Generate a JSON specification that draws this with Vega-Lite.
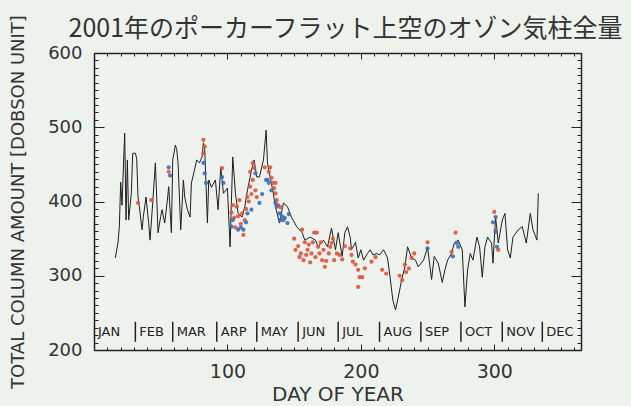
{
  "$schema": "https://vega.github.io/schema/vega-lite/v6.json",
  "width": 487,
  "height": 297,
  "autosize": {"type": "none"},
  "padding": {"left": 94, "top": 53, "right": 50, "bottom": 56},
  "background": "#edf3ec",
  "config": {"view": {"stroke": null}},
  "title": {
    "text": "2001年のポーカーフラット上空のオゾン気柱全量",
    "font": "Noto Sans CJK JP",
    "fontSize": 25,
    "fontWeight": "normal",
    "color": "#333333",
    "anchor": "middle",
    "frame": "group",
    "dx": 8,
    "offset": -27
  },
  "datasets": {
    "line": [
      {"day":16,"value":324},{"day":18,"value":345},{"day":19,"value":366},{"day":20,"value":426},{"day":21,"value":395},{"day":22,"value":445},{"day":23,"value":492},{"day":24,"value":375},{"day":25,"value":456},{"day":26,"value":375},{"day":28,"value":411},{"day":29,"value":465},{"day":31,"value":465},{"day":32,"value":458},{"day":33,"value":406},{"day":34,"value":393},{"day":36,"value":362},{"day":37,"value":380},{"day":39,"value":406},{"day":41,"value":370},{"day":42,"value":348},{"day":44,"value":398},{"day":46,"value":452},{"day":48,"value":358},{"day":50,"value":380},{"day":51,"value":389},{"day":53,"value":371},{"day":55,"value":402},{"day":56,"value":420},{"day":58,"value":358},{"day":59,"value":456},{"day":61,"value":476},{"day":62,"value":470},{"day":63,"value":452},{"day":65,"value":362},{"day":67,"value":429},{"day":68,"value":406},{"day":70,"value":389},{"day":72,"value":379},{"day":73,"value":425},{"day":75,"value":440},{"day":77,"value":456},{"day":79,"value":452},{"day":81,"value":460},{"day":82,"value":479},{"day":83,"value":470},{"day":85,"value":371},{"day":86,"value":429},{"day":88,"value":419},{"day":91,"value":429},{"day":93,"value":389},{"day":95,"value":446},{"day":97,"value":411},{"day":100,"value":418},{"day":102,"value":339},{"day":104,"value":460},{"day":106,"value":411},{"day":108,"value":384},{"day":111,"value":379},{"day":113,"value":393},{"day":115,"value":415},{"day":118,"value":442},{"day":120,"value":456},{"day":122,"value":433},{"day":124,"value":433},{"day":127,"value":456},{"day":129,"value":496},{"day":130,"value":452},{"day":132,"value":433},{"day":134,"value":415},{"day":136,"value":393},{"day":139,"value":371},{"day":142,"value":398},{"day":145,"value":393},{"day":148,"value":379},{"day":152,"value":366},{"day":156,"value":358},{"day":158,"value":348},{"day":162,"value":352},{"day":166,"value":348},{"day":168,"value":339},{"day":172,"value":348},{"day":175,"value":339},{"day":178,"value":364},{"day":181,"value":335},{"day":183,"value":358},{"day":186,"value":326},{"day":188,"value":358},{"day":190,"value":366},{"day":192,"value":352},{"day":193,"value":335},{"day":196,"value":345},{"day":198,"value":324},{"day":200,"value":335},{"day":202,"value":321},{"day":205,"value":330},{"day":207,"value":335},{"day":209,"value":328},{"day":212,"value":330},{"day":214,"value":328},{"day":217,"value":335},{"day":220,"value":324},{"day":222,"value":297},{"day":224,"value":267},{"day":226,"value":254},{"day":228,"value":271},{"day":231,"value":298},{"day":233,"value":312},{"day":235,"value":339},{"day":238,"value":324},{"day":241,"value":321},{"day":243,"value":312},{"day":247,"value":321},{"day":250,"value":338},{"day":252,"value":310},{"day":253,"value":295},{"day":255,"value":326},{"day":258,"value":317},{"day":261,"value":291},{"day":263,"value":308},{"day":265,"value":321},{"day":268,"value":330},{"day":270,"value":344},{"day":273,"value":348},{"day":276,"value":335},{"day":278,"value":258},{"day":280,"value":308},{"day":282,"value":330},{"day":284,"value":321},{"day":287,"value":352},{"day":289,"value":339},{"day":291,"value":298},{"day":293,"value":339},{"day":295,"value":352},{"day":298,"value":344},{"day":299,"value":317},{"day":301,"value":379},{"day":303,"value":344},{"day":306,"value":375},{"day":308,"value":384},{"day":310,"value":335},{"day":312,"value":324},{"day":314,"value":352},{"day":318,"value":362},{"day":321,"value":366},{"day":324,"value":344},{"day":327,"value":384},{"day":329,"value":362},{"day":332,"value":348},{"day":333,"value":411}
    ],
    "dots": [
      {"day":33,"value":398,"kind":"red"},{"day":43,"value":402,"kind":"red"},{"day":56,"value":440,"kind":"red"},
      {"day":82,"value":483,"kind":"red"},{"day":83,"value":474,"kind":"red"},{"day":82,"value":465,"kind":"red"},
      {"day":96,"value":445,"kind":"red"},
      {"day":103,"value":385,"kind":"red"},{"day":104,"value":395,"kind":"red"},{"day":105,"value":378,"kind":"red"},{"day":106,"value":365,"kind":"red"},{"day":107,"value":393,"kind":"red"},{"day":108,"value":380,"kind":"red"},{"day":109,"value":402,"kind":"red"},{"day":110,"value":370,"kind":"red"},{"day":111,"value":384,"kind":"red"},{"day":112,"value":355,"kind":"red"},{"day":113,"value":375,"kind":"red"},{"day":114,"value":390,"kind":"red"},{"day":115,"value":406,"kind":"red"},{"day":116,"value":400,"kind":"red"},{"day":117,"value":420,"kind":"red"},{"day":117,"value":440,"kind":"red"},{"day":118,"value":410,"kind":"red"},{"day":119,"value":429,"kind":"red"},{"day":119,"value":452,"kind":"red"},{"day":120,"value":445,"kind":"red"},{"day":121,"value":415,"kind":"red"},{"day":122,"value":406,"kind":"red"},
      {"day":128,"value":446,"kind":"red"},{"day":131,"value":440,"kind":"red"},{"day":132,"value":446,"kind":"red"},{"day":133,"value":432,"kind":"red"},{"day":134,"value":425,"kind":"red"},{"day":135,"value":418,"kind":"red"},{"day":136,"value":411,"kind":"red"},{"day":136,"value":425,"kind":"red"},{"day":137,"value":402,"kind":"red"},{"day":138,"value":395,"kind":"red"},{"day":140,"value":392,"kind":"red"},
      {"day":150,"value":350,"kind":"red"},{"day":151,"value":335,"kind":"red"},{"day":153,"value":340,"kind":"red"},{"day":154,"value":325,"kind":"red"},{"day":155,"value":330,"kind":"red"},{"day":156,"value":362,"kind":"red"},{"day":157,"value":321,"kind":"red"},{"day":158,"value":345,"kind":"red"},{"day":159,"value":328,"kind":"red"},{"day":160,"value":335,"kind":"red"},{"day":161,"value":342,"kind":"red"},{"day":162,"value":318,"kind":"red"},{"day":163,"value":330,"kind":"red"},{"day":164,"value":345,"kind":"red"},
      {"day":165,"value":358,"kind":"red"},{"day":166,"value":325,"kind":"red"},{"day":167,"value":358,"kind":"red"},{"day":168,"value":339,"kind":"red"},{"day":169,"value":330,"kind":"red"},{"day":170,"value":345,"kind":"red"},{"day":171,"value":321,"kind":"red"},{"day":172,"value":335,"kind":"red"},{"day":173,"value":312,"kind":"red"},{"day":174,"value":320,"kind":"red"},{"day":176,"value":330,"kind":"red"},{"day":177,"value":339,"kind":"red"},{"day":178,"value":344,"kind":"red"},{"day":179,"value":350,"kind":"red"},{"day":180,"value":321,"kind":"red"},{"day":182,"value":330,"kind":"red"},{"day":184,"value":328,"kind":"red"},{"day":186,"value":322,"kind":"red"},{"day":188,"value":340,"kind":"red"},
      {"day":192,"value":337,"kind":"red"},{"day":193,"value":328,"kind":"red"},{"day":194,"value":319,"kind":"red"},{"day":196,"value":315,"kind":"red"},{"day":198,"value":308,"kind":"red"},{"day":199,"value":298,"kind":"red"},{"day":198,"value":285,"kind":"red"},{"day":201,"value":298,"kind":"red"},{"day":203,"value":310,"kind":"red"},{"day":208,"value":319,"kind":"red"},{"day":211,"value":325,"kind":"red"},{"day":216,"value":308,"kind":"red"},{"day":219,"value":303,"kind":"red"},
      {"day":229,"value":300,"kind":"red"},{"day":231,"value":294,"kind":"red"},{"day":233,"value":315,"kind":"red"},{"day":234,"value":305,"kind":"red"},{"day":236,"value":310,"kind":"red"},{"day":238,"value":324,"kind":"red"},{"day":240,"value":330,"kind":"red"},
      {"day":250,"value":345,"kind":"red"},
      {"day":268,"value":332,"kind":"red"},{"day":271,"value":358,"kind":"red"},
      {"day":300,"value":386,"kind":"red"},{"day":301,"value":362,"kind":"red"},{"day":303,"value":335,"kind":"red"},
      {"day":56,"value":446,"kind":"blue"},{"day":57,"value":435,"kind":"blue"},
      {"day":82,"value":452,"kind":"blue"},{"day":83,"value":438,"kind":"blue"},{"day":84,"value":425,"kind":"blue"},
      {"day":96,"value":433,"kind":"blue"},{"day":97,"value":425,"kind":"blue"},
      {"day":103,"value":366,"kind":"blue"},{"day":104,"value":375,"kind":"blue"},{"day":108,"value":362,"kind":"blue"},{"day":110,"value":365,"kind":"blue"},{"day":112,"value":362,"kind":"blue"},{"day":114,"value":372,"kind":"blue"},{"day":115,"value":384,"kind":"blue"},{"day":118,"value":389,"kind":"blue"},{"day":121,"value":438,"kind":"blue"},{"day":124,"value":398,"kind":"blue"},{"day":126,"value":410,"kind":"blue"},
      {"day":129,"value":429,"kind":"blue"},{"day":130,"value":429,"kind":"blue"},{"day":131,"value":425,"kind":"blue"},{"day":133,"value":415,"kind":"blue"},{"day":136,"value":398,"kind":"blue"},{"day":137,"value":393,"kind":"blue"},{"day":139,"value":384,"kind":"blue"},{"day":140,"value":375,"kind":"blue"},{"day":141,"value":380,"kind":"blue"},{"day":142,"value":375,"kind":"blue"},{"day":143,"value":378,"kind":"blue"},{"day":145,"value":371,"kind":"blue"},{"day":146,"value":383,"kind":"blue"},
      {"day":250,"value":337,"kind":"blue"},
      {"day":269,"value":326,"kind":"blue"},{"day":272,"value":344,"kind":"blue"},{"day":273,"value":339,"kind":"blue"},
      {"day":299,"value":372,"kind":"blue"},{"day":301,"value":379,"kind":"blue"},{"day":301,"value":359,"kind":"blue"},{"day":302,"value":339,"kind":"blue"}
    ],
    "months": [
      {"month":"JAN","start":0,"bar":false},{"month":"FEB","start":31,"bar":true},{"month":"MAR","start":59,"bar":true},{"month":"ARP","start":92,"bar":true},{"month":"MAY","start":122,"bar":true},{"month":"JUN","start":153,"bar":true},{"month":"JUL","start":183,"bar":true},{"month":"AUG","start":214,"bar":true},{"month":"SEP","start":245,"bar":true},{"month":"OCT","start":275,"bar":true},{"month":"NOV","start":306,"bar":true},{"month":"DEC","start":336,"bar":true}
    ]
  },
  "resolve": {"axis": {"x": "independent", "y": "independent"}},
  "layer": [
    {
      "data": {"name": "line"},
      "mark": {"type": "line", "color": "#1e1e1e", "strokeWidth": 1, "interpolate": "linear"},
      "encoding": {
        "x": {"field": "day", "type": "quantitative", "scale": {"domain": [0, 365], "nice": false},
          "axis": {"orient": "bottom", "title": "DAY OF YEAR", "titleFont": "DejaVu Sans", "titleFontSize": 20, "titleFontWeight": "normal", "titleColor": "#333333", "titlePadding": 3,
            "values": [0,10,20,30,40,50,60,70,80,90,100,110,120,130,140,150,160,170,180,190,200,210,220,230,240,250,260,270,280,290,300,310,320,330,340,350,360],
            "labelExpr": "datum.value > 0 && datum.value % 100 === 0 ? datum.label : ''",
            "labelFont": "DejaVu Sans", "labelFontSize": 19, "labelColor": "#333333", "labelPadding": 15, "labelFlush": false, "labelOverlap": false,
            "tickSize": -3,
            "tickColor": "#222222", "tickWidth": 1, "domainColor": "#222222", "domainWidth": 1.5,
            "grid": true, "gridColor": "#222222", "gridWidth": 1, "gridDash": [6, 285, 6, 1000],
            "gridOpacity": {"condition": {"test": "datum.value % 100 === 0", "value": 1}, "value": 0}}},
        "y": {"field": "value", "type": "quantitative", "scale": {"domain": [200, 600], "nice": false},
          "axis": {"orient": "left", "title": "TOTAL COLUMN AMOUNT [DOBSON UNIT]", "titleFont": "DejaVu Sans", "titleFontSize": 18, "titleFontWeight": "normal", "titleColor": "#333333", "titlePadding": 20,
            "values": [200,210,220,230,240,250,260,270,280,290,300,310,320,330,340,350,360,370,380,390,400,410,420,430,440,450,460,470,480,490,500,510,520,530,540,550,560,570,580,590,600],
            "labelExpr": "datum.value % 100 === 0 ? datum.label : ''",
            "labelFont": "DejaVu Sans", "labelFontSize": 18, "labelColor": "#333333", "labelPadding": 16, "labelFlush": false, "labelOverlap": false,
            "tickSize": -4,
            "tickColor": "#222222", "tickWidth": 1, "domainColor": "#222222", "domainWidth": 1.5,
            "grid": true, "gridColor": "#222222", "gridWidth": 1, "gridDash": [10, 467, 10, 1000],
            "gridOpacity": {"condition": {"test": "datum.value % 100 === 0", "value": 1}, "value": 0}}}
      }
    },
    {
      "data": {"name": "dots"},
      "mark": {"type": "circle", "size": 18, "opacity": 0.9},
      "encoding": {
        "x": {"field": "day", "type": "quantitative",
          "axis": {"orient": "top", "title": null, "labels": false,
            "values": [0,10,20,30,40,50,60,70,80,90,100,110,120,130,140,150,160,170,180,190,200,210,220,230,240,250,260,270,280,290,300,310,320,330,340,350,360],
            "tickSize": -3,
            "tickColor": "#222222", "domainColor": "#222222", "domainWidth": 1.5, "grid": false}},
        "y": {"field": "value", "type": "quantitative",
          "axis": {"orient": "right", "title": null, "labels": false,
            "values": [200,210,220,230,240,250,260,270,280,290,300,310,320,330,340,350,360,370,380,390,400,410,420,430,440,450,460,470,480,490,500,510,520,530,540,550,560,570,580,590,600],
            "tickSize": -4,
            "tickColor": "#222222", "domainColor": "#222222", "domainWidth": 1.5, "grid": false}},
        "color": {"field": "kind", "type": "nominal", "scale": {"domain": ["red", "blue"], "range": ["#e0533b", "#3a6cc0"]}, "legend": null}
      }
    },
    {
      "data": {"name": "months"},
      "transform": [{"filter": "datum.bar"}],
      "mark": {"type": "rule", "color": "#222222", "strokeWidth": 1.5},
      "encoding": {
        "x": {"field": "start", "type": "quantitative", "axis": null},
        "y": {"datum": 211, "type": "quantitative", "axis": null},
        "y2": {"datum": 238}
      }
    },
    {
      "data": {"name": "months"},
      "mark": {"type": "text", "align": "left", "baseline": "middle", "dx": 4, "font": "DejaVu Sans", "fontSize": 13, "color": "#222222"},
      "encoding": {
        "x": {"field": "start", "type": "quantitative", "axis": null},
        "y": {"datum": 224, "type": "quantitative", "axis": null},
        "text": {"field": "month"}
      }
    }
  ]
}
